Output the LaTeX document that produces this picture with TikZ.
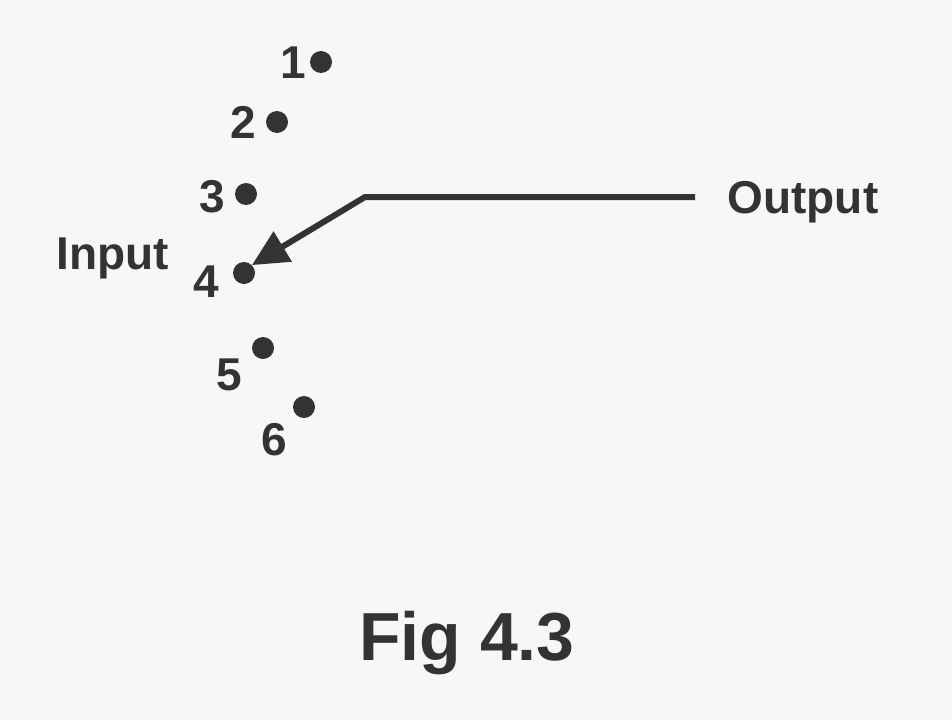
\documentclass[tikz,border=0pt]{standalone}
\usepackage{fontspec}
\setmainfont{Liberation Sans}
\usetikzlibrary{arrows.meta}
\definecolor{ink}{HTML}{333333}
\begin{document}
\begin{tikzpicture}[x=1pt,y=-1pt,
  dot/.style={circle,fill=ink,minimum size=22pt,inner sep=0pt},
  lbl/.style={text=ink,font=\fontsize{46}{50}\selectfont\bfseries,inner sep=0pt}]
\fill[gray!6] (0,0) rectangle (952,720);
\useasboundingbox (0,0) rectangle (952,720);
\node[dot] (d1) at (321,62) {};
\node[dot] (d2) at (277,122) {};
\node[dot] (d3) at (246,194) {};
\node[dot] (d4) at (244,273) {};
\node[dot] (d5) at (263,348) {};
\node[dot] (d6) at (304,407) {};
\node[lbl] (l1) at (293,63) {1};
\node[lbl] (l2) at (243,122) {2};
\node[lbl] (l3) at (212,197) {3};
\node[lbl] (l4) at (206,282) {4};
\node[lbl] (l5) at (229,375) {5};
\node[lbl] (l6) at (274,440) {6};
\node[lbl] (in) at (113,258) {Input};
\node[lbl] (out) at (803,202) {Output};
\node[lbl,font=\fontsize{68}{72}\selectfont\bfseries] (fig) at (467,643) {Fig 4.3};
\coordinate (a) at (695,197);
\coordinate (b) at (365,197);
\draw[ink,line width=6pt,-{Triangle[length=36pt,width=34pt]}] (a) -- (b) -- (d4.north east);
\end{tikzpicture}
\end{document}
